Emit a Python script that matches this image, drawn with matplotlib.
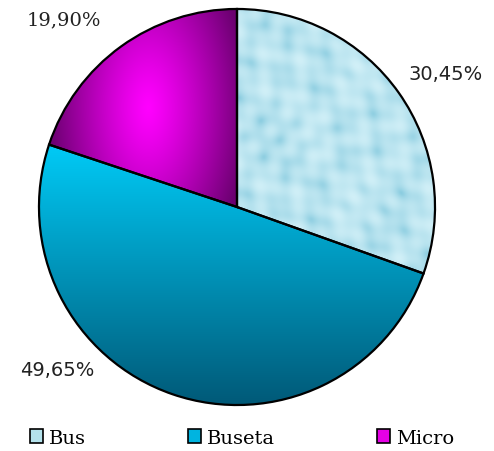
import matplotlib.pyplot as plt
import numpy as np
from matplotlib.patches import Patch

# data
categories = ["Bus", "Buseta", "Micro"]
shares = [30.45, 49.65, 19.90]
pct_labels = ["30,45%", "49,65%", "19,90%"]

fig = plt.figure(figsize=(4.94, 4.52), dpi=100)
ax = fig.add_axes([37 / 494, 44 / 452, 400 / 494, 400 / 452])

wedges, texts = ax.pie(shares, startangle=90, counterclock=False, radius=1,
                       labels=pct_labels, labeldistance=1.25,
                       wedgeprops=dict(edgecolor="black", linewidth=1.6),
                       textprops=dict(fontsize=14, color="#222222"))

n = 400
xs = np.linspace(-1, 1, n)
X, Y = np.meshgrid(xs, xs[::-1])

# Bus: light blue "water drop" look
tex = (np.sin(X * 23 + np.sin(Y * 9) * 2) * np.cos(Y * 19 + np.cos(X * 7) * 2)
       + 0.6 * np.sin((X + Y) * 37) * np.cos((X - Y) * 29))
tex = (tex - tex.min()) / (tex.max() - tex.min())
c_lo = np.array([0.52, 0.79, 0.87])
c_hi = np.array([0.82, 0.94, 0.97])
img_bus = c_lo + (c_hi - c_lo) * tex[..., None] ** 0.5
im = ax.imshow(img_bus, extent=(-1, 1, -1, 1), zorder=1)
im.set_clip_path(wedges[0])

# Buseta: vertical gradient
t = np.clip((0.3 - Y) / 1.3, 0, 1)
top = np.array([0.0, 0.79, 0.96])
bot = np.array([0.0, 0.35, 0.47])
img_bs = top + (bot - top) * t[..., None]
im = ax.imshow(img_bs, extent=(-1, 1, -1, 1), zorder=1)
im.set_clip_path(wedges[1])

# Micro: radial glow
d = np.sqrt(((X + 0.45) / 0.5) ** 2 + ((Y - 0.5) / 0.9) ** 2)
d = np.clip(d, 0, 1)
cen = np.array([1.0, 0.0, 1.0])
edge = np.array([0.42, 0.0, 0.44])
img_mi = cen + (edge - cen) * d[..., None] ** 1.2
im = ax.imshow(img_mi, extent=(-1, 1, -1, 1), zorder=1)
im.set_clip_path(wedges[2])

for w in wedges:
    w.set_facecolor("none")
    w.set_zorder(2)

texts[0].set_fontfamily("DejaVu Sans")
texts[1].set_fontfamily("DejaVu Sans")
texts[2].set_fontfamily("DejaVu Serif")
texts[0].set_position((1.055, 0.675))
texts[1].set_position((-0.91, -0.82))
texts[2].set_position((-0.875, 0.95))
for tx in texts:
    tx.set_ha("center")
    tx.set_va("center")

ax.set_xlim(-1.01, 1.01)
ax.set_ylim(-1.01, 1.01)
ax.set_aspect("equal")
ax.axis("off")

handles = [Patch(facecolor="#b4e2ec", edgecolor="black"),
           Patch(facecolor="#00b4e0", edgecolor="black"),
           Patch(facecolor="#e600e6", edgecolor="black")]
for h in handles:
    h.set_linewidth(1.2)
leg = fig.legend(handles, categories, loc="lower left", ncol=3, mode="expand",
                 bbox_to_anchor=(0.025, -0.03, 0.93, 0.07), frameon=False,
                 handlelength=0.7, handleheight=0.7, handletextpad=0.3,
                 prop=dict(family="DejaVu Serif", size=14))

fig.savefig("out.png", dpi=100)
